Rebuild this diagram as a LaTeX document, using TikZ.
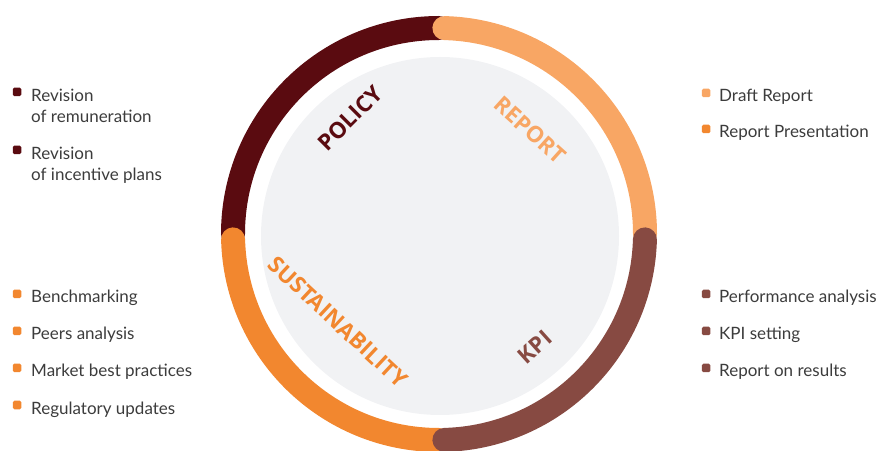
\documentclass[tikz,border=0pt]{standalone}
\usepackage{fontspec}
\setmainfont{Lato}
\newfontfamily\headfont{Open Sans}
\usetikzlibrary{positioning}
\definecolor{polcol}{HTML}{5A0B10}
\definecolor{repcol}{HTML}{F8A664}
\definecolor{kpicol}{HTML}{874A42}
\definecolor{suscol}{HTML}{F2872F}
\definecolor{diskgray}{HTML}{F1F2F4}
\definecolor{txtgray}{HTML}{3C3C3C}

\begin{document}
\begin{tikzpicture}[
  x=1pt,y=1pt,
  ring/.style={line width=24pt,line cap=round},
  head/.style={font=\headfont\bfseries\fontsize{22.5}{22.5}\selectfont,inner sep=0pt},
  itm/.style={anchor=base west,align=left,text=txtgray,inner sep=0pt,
    font=\fontsize{17}{21}\selectfont},
  dot/.style={fill=#1,rounded corners=1.5pt,minimum size=8.5pt,inner sep=0pt}
]
\useasboundingbox (0,0) rectangle (881,450);
\coordinate (O) at (439,216);

% grey disk in the middle
\fill[diskgray] (440,214) circle (179);

% the four quarters of the ring
\draw[ring,polcol] (O) ++(180:206) arc[start angle=180,end angle=90,radius=206];
\draw[ring,suscol] (O) ++(181.5:206) arc[start angle=181.5,end angle=270,radius=206];
\draw[ring,repcol] (O) ++(88.5:206) arc[start angle=88.5,end angle=0,radius=206];
\draw[ring,kpicol] (O) ++(-1.5:206) arc[start angle=-1.5,end angle=-88.5,radius=206];

% labels inside the ring
\node[head,text=polcol,rotate=45] (policy) at (350,332) {POLICY};
\node[head,text=repcol,rotate=-42] (report) at (530,320) {REPORT};
\node[head,text=suscol,rotate=-43] (sustain) at (338,128) {SUSTAINABILITY};
\node[head,text=kpicol,rotate=42] (kpi) at (535,103) {KPI};

% policy items (two lines, base is the second line)
\node[dot=polcol] (b1) at (17,358) {};
\node[itm] (t1) at (31,327) {Revision\\of remuneration};
\node[dot=polcol] (b2) at (17,300) {};
\node[itm] (t2) at (31,269) {Revision\\of incentive plans};

% sustainability items
\node[dot=suscol] (b3) at (17,156) {};
\node[itm] (t3) at (31,147) {Benchmarking};
\node[dot=suscol] (b4) at (17,119) {};
\node[itm] (t4) at (31,110) {Peers analysis};
\node[dot=suscol] (b5) at (17,82) {};
\node[itm] (t5) at (31,73) {Market best practices};
\node[dot=suscol] (b6) at (17,45) {};
\node[itm] (t6) at (31,36) {Regulatory updates};

% report items
\node[dot=repcol] (b7) at (706,357) {};
\node[itm] (t7) at (719,348) {Draft Report};
\node[dot=suscol] (b8) at (706,321) {};
\node[itm] (t8) at (719,312) {Report Presentation};

% kpi items
\node[dot=kpicol] (b9) at (706,156) {};
\node[itm] (t9) at (719,147) {Performance analysis};
\node[dot=kpicol] (b10) at (706,119) {};
\node[itm] (t10) at (719,110) {KPI setting};
\node[dot=kpicol] (b11) at (706,82) {};
\node[itm] (t11) at (719,73) {Report on results};
\end{tikzpicture}
\end{document}
